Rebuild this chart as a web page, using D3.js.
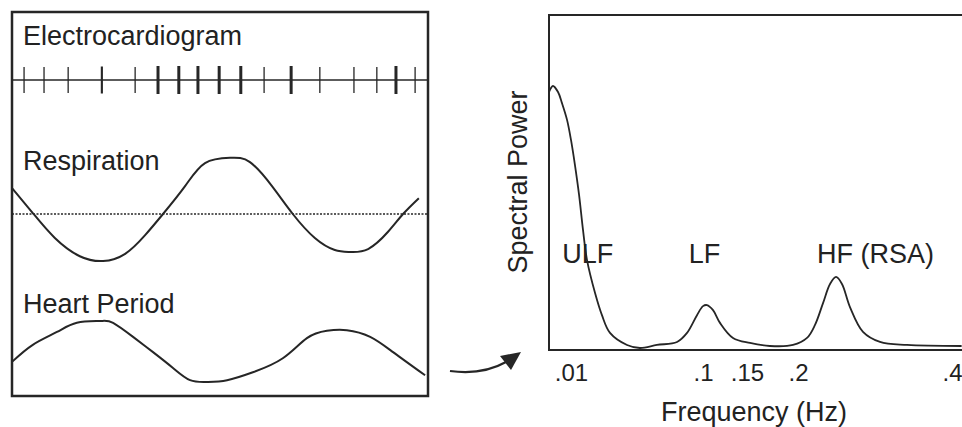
<!DOCTYPE html>
<html>
<head>
<meta charset="utf-8">
<script src="https://cdn.jsdelivr.net/npm/d3@7"></script>
<style>
  body { margin: 0; background: #fff; }
  svg { display: block; font-family: "Liberation Sans", Arial, sans-serif; }
  text { fill: #222; }
</style>
</head>
<body>
<svg id="chart" width="962" height="427"></svg>
<script>
// ECG beats: time (0-100) and relative amplitude
var beatTimes = [2.9, 7.7, 13.5, 21.6, 29.6, 35.1, 40.1, 44.7, 49.8, 55.0, 60.6, 67.1, 74.0, 82.2, 87.7, 92.3, 96.9];
var beatAmps  = [1, 1, 1, 1.5, 1, 2, 2, 2, 2, 2, 1, 2, 1, 1, 1, 2, 1];

// respiration trace (time, relative volume)
var respTime = [0, 5, 10.3, 16.3, 21.9, 27.2, 32, 36.3, 41.6, 46.4, 52.4, 57.2, 62.5, 67.5, 72.8, 77.6, 81.3, 85.6, 90.4, 94, 97.8];
var respVal  = [0.54, 0.02, -0.5, -0.88, -0.98, -0.83, -0.44, 0, 0.58, 1.06, 1.17, 1.08, 0.58, 0, -0.5, -0.75, -0.79, -0.73, -0.37, 0, 0.33];

// heart period trace (time, relative period)
var hpTime = [0, 5.0, 10.8, 15.6, 21.2, 24.3, 29.1, 33.9, 38.7, 42.8, 46.9, 51.7, 57.9, 65.1, 70.9, 75.7, 80.5, 86.1, 91.6, 99.3];
var hpVal  = [0.33, 0.61, 0.82, 0.97, 1.0, 0.97, 0.74, 0.49, 0.23, 0.03, 0, 0.03, 0.16, 0.39, 0.72, 0.84, 0.85, 0.74, 0.49, 0.11];

// power spectrum (Hz, arbitrary power)
var freq  = [0, .0018, .0041, .0059, .0082, .01, .0127, .0155, .0182, .0209, .0264, .0311, .0366, .0482, .057, .0686, .0823, .0891, .0959, .1, .1045, .1114, .1193, .1341, .1529, .1725, .1951, .2117, .2221, .2325, .2416, .2494, .2571, .2675, .2844, .3065, .3416, .4125];
var power = [7.7, 7.88, 7.7, 7.37, 6.87, 6.27, 5.52, 4.63, 3.58, 2.69, 1.70, 1.04, 0.51, 0.15, 0.06, 0.15, 0.24, 0.51, 1.04, 1.31, 1.34, 1.19, 0.81, 0.36, 0.21, 0.12, 0.15, 0.36, 0.75, 1.40, 1.97, 2.18, 1.97, 1.28, 0.54, 0.24, 0.15, 0.12];

var freqTicks = [0.01, 0.1, 0.15, 0.2, 0.4];
var bandNames = ['ULF', 'LF', 'HF (RSA)'];
var bandAt = [0.006, 0.1016, 0.2247];

var svg = d3.select('#chart');
var ink = '#262626';

// ---- left panel ----
var box = { left: 12, top: 12, right: 428, bottom: 396 };

svg.append('rect')
  .attr('x', box.left).attr('y', box.top)
  .attr('width', box.right - box.left).attr('height', box.bottom - box.top)
  .attr('fill', 'none').attr('stroke', ink).attr('stroke-width', 2.5);

var t = d3.scaleLinear().domain([0, 100]).range([box.left, box.right]);

// electrocardiogram
var ecgY = 80;
svg.append('text').attr('x', 23).attr('y', 45).attr('font-size', '27px').text('Electrocardiogram');
svg.append('line')
  .attr('x1', box.left).attr('x2', box.right)
  .attr('y1', ecgY).attr('y2', ecgY)
  .attr('stroke', ink).attr('stroke-width', 1.7);

var ampW = d3.scaleLinear().domain([1, 2]).range([1.3, 3]);
svg.selectAll('line.beat')
    .data(beatTimes)
  .enter().append('line')
    .attr('class', 'beat')
    .attr('x1', function(d) { return t(d); })
    .attr('x2', function(d) { return t(d); })
    .attr('y1', function(d, i) { return ecgY - 12 - beatAmps[i]; })
    .attr('y2', function(d, i) { return ecgY + 12 + beatAmps[i]; })
    .attr('stroke', ink)
    .attr('stroke-width', function(d, i) { return ampW(beatAmps[i]); });

// respiration
svg.append('text').attr('x', 23).attr('y', 170).attr('font-size', '27px').text('Respiration');
var ry = d3.scaleLinear().domain([-1, 1]).range([262, 166]);
svg.append('line')
  .attr('x1', box.left).attr('x2', box.right)
  .attr('y1', ry(0)).attr('y2', ry(0))
  .attr('stroke', ink).attr('stroke-width', 1.6)
  .attr('stroke-dasharray', '2,1.5');

var respLine = d3.line()
  .x(function(d) { return t(d[0]); })
  .y(function(d) { return ry(d[1]); })
  .curve(d3.curveNatural);
svg.append('path')
  .datum(d3.zip(respTime, respVal))
  .attr('d', respLine)
  .attr('fill', 'none').attr('stroke', ink).attr('stroke-width', 2);

// heart period
svg.append('text').attr('x', 23).attr('y', 313).attr('font-size', '27px').text('Heart Period');
var hy = d3.scaleLinear().domain([0, 1]).range([382, 321]);
var hpLine = d3.line()
  .x(function(d) { return t(d[0]); })
  .y(function(d) { return hy(d[1]); })
  .curve(d3.curveNatural);
svg.append('path')
  .datum(d3.zip(hpTime, hpVal))
  .attr('d', hpLine)
  .attr('fill', 'none').attr('stroke', ink).attr('stroke-width', 2);

// ---- arrow ----
svg.append('path')
  .attr('d', 'M450,371 C472,374 490,371 506,362')
  .attr('fill', 'none').attr('stroke', ink).attr('stroke-width', 2.2);
svg.append('path')
  .attr('d', 'M521,352 L500,356 L511,370 Z')
  .attr('fill', ink);

// ---- spectrum ----
var plot = { left: 549, top: 15, right: 962, bottom: 350 };
var x = d3.scaleLinear()
  .domain([0, 0.01, 0.1, 0.15, 0.2, 0.4])
  .range([plot.left, 571, 703, 747, 798, 952]);
var y = d3.scaleLinear().domain([0, 10]).range([plot.bottom, plot.top]);

svg.append('path')
  .attr('d', 'M' + plot.right + ',' + plot.top + 'H' + plot.left + 'V' + plot.bottom + 'H' + plot.right)
  .attr('fill', 'none').attr('stroke', ink).attr('stroke-width', 2);

var specLine = d3.line()
  .x(function(d) { return x(d[0]); })
  .y(function(d) { return y(d[1]); })
  .curve(d3.curveCatmullRom);
svg.append('path')
  .datum(d3.zip(freq, power))
  .attr('d', specLine)
  .attr('fill', 'none').attr('stroke', ink).attr('stroke-width', 1.8);

var xAxis = svg.append('g')
  .attr('transform', 'translate(0,' + plot.bottom + ')')
  .call(d3.axisBottom(x)
    .tickValues(freqTicks)
    .tickSize(0)
    .tickPadding(14)
    .tickFormat(function(d) { return String(d).replace(/^0/, ''); }));
xAxis.select('.domain').remove();
xAxis.selectAll('text')
  .attr('font-size', '24px')
  .attr('font-family', '"Liberation Sans", Arial, sans-serif')
  .attr('fill', '#222');

svg.append('text')
  .attr('x', 754).attr('y', 421)
  .attr('text-anchor', 'middle')
  .attr('font-size', '27px')
  .text('Frequency (Hz)');

svg.append('text')
  .attr('transform', 'translate(527,182) rotate(-90)')
  .attr('text-anchor', 'middle')
  .attr('font-size', '27px')
  .text('Spectral Power');

svg.selectAll('text.band')
    .data(bandNames)
  .enter().append('text')
    .attr('class', 'band')
    .attr('x', function(d, i) { return x(bandAt[i]); })
    .attr('y', 263)
    .attr('font-size', '27px')
    .attr('text-anchor', function(d) { return d == 'LF' ? 'middle' : 'start'; })
    .text(function(d) { return d; });
</script>
</body>
</html>
